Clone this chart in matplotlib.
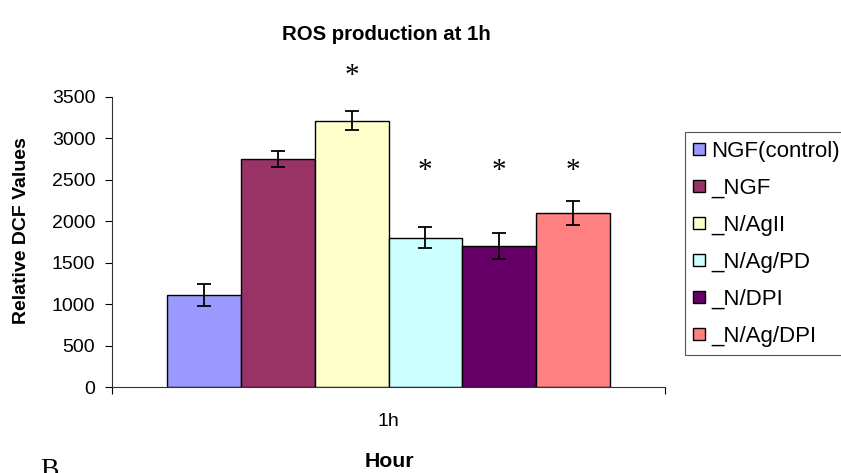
import matplotlib
matplotlib.use("Agg")
import matplotlib.pyplot as plt
from matplotlib.patches import Patch
import numpy as np

plt.rcParams["font.family"] = ["Liberation Sans", "DejaVu Sans"]

# values
groups = ["NGF(control)", "_NGF", "_N/AgII", "_N/Ag/PD", "_N/DPI", "_N/Ag/DPI"]
values = [1110, 2750, 3210, 1800, 1700, 2100]
errors = [130, 98, 116, 129, 160, 147]
colors = ["#9999FF", "#993366", "#FFFFCC", "#CCFFFF", "#660066", "#FF8080"]
# significance marks: (bar index, height of the star)
stars = [(2, 3750), (3, 2610), (4, 2610), (5, 2610)]
category = "1h"

fig = plt.figure(figsize=(8.41, 4.73), dpi=100)
ax = fig.add_axes([112 / 841, 1 - 387 / 473, 553 / 841, 290.3 / 473])

n = len(values)
width = 0.8 / n
xpos = -0.4 + width * (np.arange(n) + 0.5)

ax.bar(xpos, values, width=width, color=colors, edgecolor="black", linewidth=1.0, zorder=2)
ax.errorbar(xpos, values, yerr=errors, fmt="none", ecolor="black",
            elinewidth=1.3, capsize=5, capthick=1.3, zorder=3)

for i, h in stars:
    ax.text(xpos[i], h, "*", ha="center", va="center", fontsize=21,
            family="Liberation Serif", clip_on=False)

ax.set_xlim(-0.5, 0.5)
ax.set_ylim(0, 3500)
ax.set_yticks(np.arange(0, 3501, 500))
ax.tick_params(axis="y", labelsize=14, length=5, width=0.8, pad=7, direction="out")
ax.set_xticks([0])
ax.set_xticklabels([category])
ax.tick_params(axis="x", which="major", length=0, labelsize=14, pad=19)
ax.set_xticks([-0.5, 0.5], minor=True)
ax.tick_params(axis="x", which="minor", length=5, width=0.8, direction="out")

for side in ["top", "right"]:
    ax.spines[side].set_visible(False)
for side in ["left", "bottom"]:
    ax.spines[side].set_linewidth(0.8)
    ax.spines[side].set_color("#333333")

fig.text(386 / 841, 1 - 35 / 473, "ROS production at 1h", ha="center", va="center",
         fontsize=14.7, fontweight="bold")
fig.text(22 / 841, 1 - 231 / 473, "Relative DCF Values", ha="center", va="center",
         rotation=90, fontsize=14, fontweight="bold")
fig.text(389 / 841, 1 - 461 / 473, "Hour", ha="center", va="center",
         fontsize=15.3, fontweight="bold")
fig.text(40 / 841, 1 - 458 / 473, "B", ha="left", va="top", fontsize=20,
         family="Liberation Serif")

handles = [Patch(facecolor=c, edgecolor="black", linewidth=1.0) for c in colors]
leg = fig.legend(handles, groups, loc="upper left",
                 bbox_to_anchor=(685 / 841, 1 - 132.3 / 473), borderaxespad=0,
                 fontsize=16, handlelength=0.5, handleheight=0.5,
                 handletextpad=0.3, labelspacing=0.72, borderpad=0.38,
                 fancybox=False, framealpha=1)
leg.get_frame().set_edgecolor("#555555")
leg.get_frame().set_linewidth(0.8)

fig.savefig("out.png", dpi=100)
